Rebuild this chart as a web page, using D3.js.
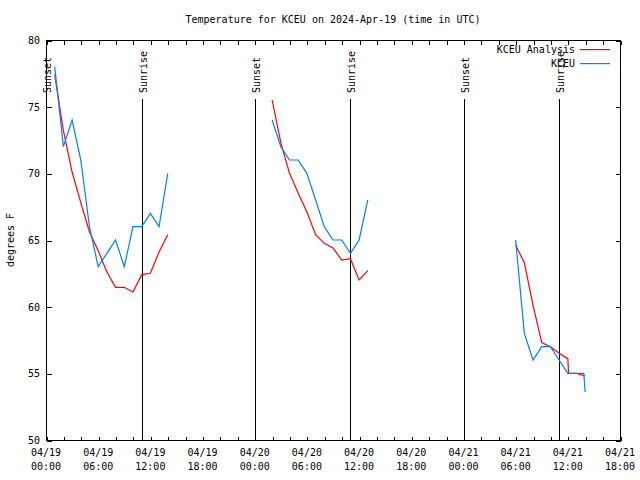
<!DOCTYPE html>
<html>
<head>
<meta charset="utf-8">
<script src="https://cdn.jsdelivr.net/npm/d3@7"></script>
<style>
  body { margin: 0; background: #fff; }
  svg { display: block; }
  text { font-family: "DejaVu Sans Mono", monospace; font-size: 10px; fill: #000; }
  .axis path { display: none; }
</style>
</head>
<body>
<div id="chart"></div>
<script>
// KCEU Analysis (red) - null marks a gap in the line
const analysisTimes = [
  '2024-04-19T01:00', '2024-04-19T02:00', '2024-04-19T03:00', '2024-04-19T04:00', '2024-04-19T05:00',
  '2024-04-19T06:00', '2024-04-19T07:00', '2024-04-19T08:00', '2024-04-19T09:00', '2024-04-19T10:00',
  '2024-04-19T11:00', '2024-04-19T12:00', '2024-04-19T13:00', '2024-04-19T14:00', null,
  '2024-04-20T02:00', '2024-04-20T03:00', '2024-04-20T04:00', '2024-04-20T05:00', '2024-04-20T06:00',
  '2024-04-20T07:00', '2024-04-20T08:00', '2024-04-20T09:00', '2024-04-20T10:00', '2024-04-20T11:00',
  '2024-04-20T12:00', '2024-04-20T13:00', null,
  '2024-04-21T06:00', '2024-04-21T07:00', '2024-04-21T08:00', '2024-04-21T09:00', '2024-04-21T10:00',
  '2024-04-21T11:00', '2024-04-21T12:00', '2024-04-21T12:05', '2024-04-21T13:00', '2024-04-21T14:00'
];
const analysisTemps = [
  77.4, 73.2, 70.1, 67.8, 65.6, 64.2, 62.6, 61.45, 61.45, 61.1, 62.4, 62.5, 64.1, 65.4, null,
  75.5, 72.3, 70.0, 68.5, 67.1, 65.4, 64.75, 64.4, 63.5, 63.6, 62.0, 62.7, null,
  64.6, 63.3, 60.1, 57.3, 57.0, 56.5, 56.1, 55.0, 55.0, 54.8
];

// KCEU observations (blue)
const obsTimes = [
  '2024-04-19T01:00', '2024-04-19T02:00', '2024-04-19T03:00', '2024-04-19T04:00', '2024-04-19T05:00',
  '2024-04-19T06:00', '2024-04-19T07:00', '2024-04-19T08:00', '2024-04-19T09:00', '2024-04-19T10:00',
  '2024-04-19T11:00', '2024-04-19T12:00', '2024-04-19T13:00', '2024-04-19T14:00', null,
  '2024-04-20T02:00', '2024-04-20T03:00', '2024-04-20T04:00', '2024-04-20T05:00', '2024-04-20T06:00',
  '2024-04-20T07:00', '2024-04-20T08:00', '2024-04-20T09:00', '2024-04-20T10:00', '2024-04-20T11:00',
  '2024-04-20T12:00', '2024-04-20T13:00', null,
  '2024-04-21T06:00', '2024-04-21T07:00', '2024-04-21T08:00', '2024-04-21T09:00', '2024-04-21T10:00',
  '2024-04-21T11:00', '2024-04-21T12:00', '2024-04-21T13:00', '2024-04-21T13:50', '2024-04-21T14:00'
];
const obsTemps = [
  78, 72, 74, 71, 66, 63, 64, 65, 63, 66, 66, 67, 66, 70, null,
  74, 72, 71, 71, 70, 68, 66, 65, 65, 64, 65, 68, null,
  65, 58, 56, 57, 57, 56, 55, 55, 55, 53.6
];

const sunEvents = [
  { label: 'Sunset', time: '2024-04-19T00:01' },
  { label: 'Sunrise', time: '2024-04-19T11:02' },
  { label: 'Sunset', time: '2024-04-20T00:02' },
  { label: 'Sunrise', time: '2024-04-20T10:59' },
  { label: 'Sunset', time: '2024-04-21T00:03' },
  { label: 'Sunrise', time: '2024-04-21T10:58' }
];

const yTicks = [50, 55, 60, 65, 70, 75, 80];
const xDomain = ['2024-04-19T00:00', '2024-04-21T18:00'];

const parse = d3.utcParse('%Y-%m-%dT%H:%M');

const width = 640, height = 480;
const plotLeft = 46, plotRight = 620, plotTop = 40, plotBottom = 440;

const svg = d3.select('#chart').append('svg')
  .attr('width', width)
  .attr('height', height);

const x = d3.scaleUtc()
  .domain(xDomain.map(parse))
  .range([plotLeft, plotRight]);

const y = d3.scaleLinear()
  .domain([50, 80])
  .range([plotBottom, plotTop]);

// frame
svg.append('rect')
  .attr('x', plotLeft + 0.5).attr('y', plotTop + 0.5)
  .attr('width', plotRight - plotLeft).attr('height', plotBottom - plotTop)
  .attr('fill', 'none').attr('stroke', '#000')
  .attr('shape-rendering', 'crispEdges');

// tick marks (inward, mirrored)
const xTickVals = d3.utcHour.every(2).range(x.domain()[0], d3.utcHour.offset(x.domain()[1], 1));
svg.append('g').attr('class', 'axis')
  .attr('transform', `translate(0.5,${plotBottom + 0.5})`)
  .call(d3.axisBottom(x).tickValues(xTickVals).tickSize(-4).tickFormat(''))
  .attr('shape-rendering', 'crispEdges');
svg.append('g').attr('class', 'axis')
  .attr('transform', `translate(0.5,${plotTop + 0.5})`)
  .call(d3.axisTop(x).tickValues(xTickVals).tickSize(-4).tickFormat(''))
  .attr('shape-rendering', 'crispEdges');
svg.append('g').attr('class', 'axis')
  .attr('transform', `translate(${plotLeft + 0.5},0.5)`)
  .call(d3.axisLeft(y).tickValues(yTicks).tickSize(-5).tickFormat(''))
  .attr('shape-rendering', 'crispEdges');
svg.append('g').attr('class', 'axis')
  .attr('transform', `translate(${plotRight + 0.5},0.5)`)
  .call(d3.axisRight(y).tickValues(yTicks).tickSize(-5).tickFormat(''))
  .attr('shape-rendering', 'crispEdges');

// x labels, every 6 hours, two lines
const xLabelVals = d3.utcHour.every(6).range(x.domain()[0], d3.utcHour.offset(x.domain()[1], 1));
const fmtDate = d3.utcFormat('%m/%d');
const fmtTime = d3.utcFormat('%H:%M');
const xl = svg.append('g').selectAll('text')
  .data(xLabelVals)
  .join('text')
  .attr('text-anchor', 'middle');
xl.append('tspan').attr('x', d => x(d)).attr('y', 456).text(d => fmtDate(d));
xl.append('tspan').attr('x', d => x(d)).attr('y', 470).text(d => fmtTime(d));

// y labels
svg.append('g').selectAll('text')
  .data(yTicks)
  .join('text')
  .attr('x', 40)
  .attr('y', d => y(d) + 4)
  .attr('text-anchor', 'end')
  .text(d => d);

svg.append('text')
  .attr('transform', 'translate(14,240) rotate(-90)')
  .attr('text-anchor', 'middle')
  .text('degrees F');

svg.append('text')
  .attr('x', 333).attr('y', 23)
  .attr('text-anchor', 'middle')
  .text('Temperature for KCEU on 2024-Apr-19 (time in UTC)');

// sunrise / sunset markers
sunEvents.forEach(ev => {
  const t = parse(ev.time);
  const xp = Math.round(x(t)) + 0.5;
  svg.append('line')
    .attr('x1', xp).attr('x2', xp)
    .attr('y1', 99).attr('y2', plotBottom)
    .style('stroke', '#000')
    .attr('shape-rendering', 'crispEdges');
  svg.append('text')
    .attr('transform', `translate(${xp + 4},93) rotate(-90)`)
    .attr('text-anchor', 'start')
    .text(ev.label);
});

// series
function makeSeries(times, temps) {
  return times.map((t, i) => ({ date: t ? parse(t) : null, temp: temps[i] }));
}

const line = d3.line()
  .defined(d => d.date !== null && d.temp !== null)
  .x(d => x(d.date))
  .y(d => y(d.temp));

const series = [
  { name: 'KCEU Analysis', color: '#ff0000', data: makeSeries(analysisTimes, analysisTemps) },
  { name: 'KCEU', color: '#0080ff', data: makeSeries(obsTimes, obsTemps) }
];

series.forEach((s, i) => {
  svg.append('path')
    .datum(s.data)
    .attr('fill', 'none')
    .style('stroke', s.color)
    .attr('stroke-width', 1.2)
    .attr('d', line);

  const ly = 49 + i * 13.5;
  svg.append('text')
    .attr('x', 575).attr('y', ly + 4)
    .attr('text-anchor', 'end')
    .text(s.name);
  svg.append('rect')
    .attr('x', 580).attr('y', Math.round(ly))
    .attr('width', 30).attr('height', 1.2)
    .style('fill', s.color);
});
</script>
</body>
</html>
